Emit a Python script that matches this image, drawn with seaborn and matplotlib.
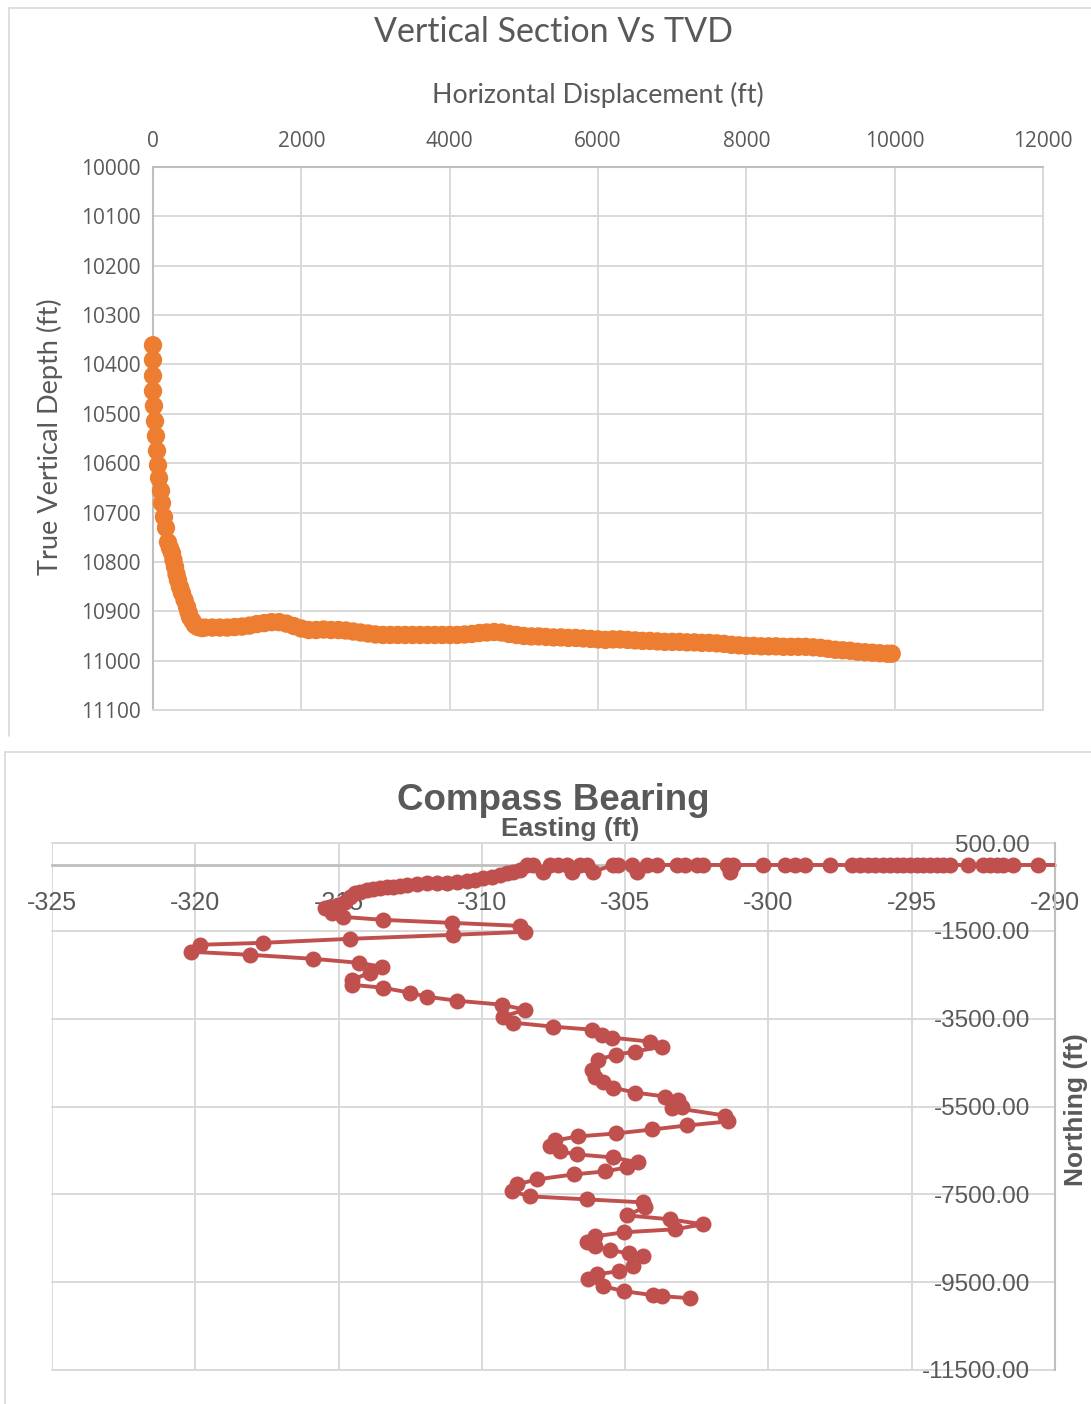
import matplotlib
matplotlib.use("Agg")
import matplotlib.pyplot as plt
import seaborn as sns
from matplotlib.lines import Line2D
from matplotlib.ticker import FuncFormatter

# ---------------- data: Vertical Section Vs TVD ----------------
vs_disp = [0, 0, 0, 0, 13, 27, 40, 54, 67, 81, 108, 121, 148, 175, 202, 229, 256, 276, 297,
           317, 337, 364, 391, 425, 458, 479, 499, 533, 566, 607, 661,
           700, 800, 900, 1000, 1100, 1200, 1300, 1400, 1500, 1600, 1700, 1800, 1900, 2000,
           2100, 2200, 2300, 2400, 2500, 2600, 2700, 2800, 2900, 3000, 3100, 3200, 3300, 3400,
           3500, 3600, 3700, 3800, 3900, 4000, 4100, 4200, 4300, 4400, 4500, 4600, 4700, 4800,
           4900, 5000, 5100, 5200, 5300, 5400, 5500, 5600, 5700, 5800, 5900, 6000, 6100, 6200,
           6300, 6400, 6500, 6600, 6700, 6800, 6900, 7000, 7100, 7200, 7300, 7400, 7500, 7600,
           7700, 7800, 7900, 8000, 8100, 8200, 8300, 8400, 8500, 8600, 8700, 8800, 8900, 9000,
           9100, 9200, 9300, 9400, 9500, 9600, 9700, 9800, 9900, 9960]
vs_tvd = [10361, 10391, 10423, 10454, 10484, 10515, 10545, 10575, 10604, 10630, 10656, 10681,
          10709, 10731, 10760, 10772, 10782, 10796, 10810, 10825, 10837, 10851, 10863, 10877,
          10891, 10902, 10912, 10920, 10928, 10932, 10934,
          10933, 10933, 10933, 10933, 10932, 10931, 10929, 10926, 10924, 10922, 10922, 10925,
          10930, 10935, 10938, 10938, 10937, 10938, 10938, 10939, 10941, 10943, 10945, 10947,
          10948, 10948, 10948, 10948, 10948, 10948, 10948, 10948, 10948, 10948, 10948, 10947,
          10946, 10944, 10943, 10942, 10943, 10946, 10948, 10950, 10951, 10951, 10952, 10953,
          10953, 10954, 10954, 10955, 10956, 10957, 10958, 10957, 10957, 10958, 10959, 10960,
          10960, 10961, 10962, 10962, 10962, 10963, 10963, 10964, 10964, 10965, 10966, 10968,
          10969, 10970, 10970, 10971, 10971, 10971, 10972, 10972, 10972, 10972, 10973, 10974,
          10976, 10978, 10979, 10980, 10982, 10983, 10984, 10985, 10986, 10986]
disp_ticks = [0, 2000, 4000, 6000, 8000, 10000, 12000]
tvd_ticks = [10000, 10100, 10200, 10300, 10400, 10500, 10600, 10700, 10800, 10900, 11000, 11100]

# ---------------- data: Compass Bearing ----------------
easting = [-289.40, -290.60, -291.47, -291.82, -292.03, -292.27, -292.52, -293.04, -293.67,
           -293.91, -294.12, -294.36, -294.61, -294.82, -295.06, -295.31, -295.52, -295.76,
           -296.01, -296.28, -296.53, -296.81, -297.09, -297.85, -298.73, -299.08, -299.42,
           -300.19, -301.24, -301.34, -301.45, -302.29, -302.49, -302.91, -303.19, -303.89,
           -304.24, -304.59, -304.76, -305.25, -305.43, -306.12, -306.33, -306.58, -306.86,
           -307.03, -307.34, -307.62, -307.87, -308.22, -308.43,
           -308.67, -308.91, -309.12, -309.37, -309.65, -309.96, -310.24, -310.52, -310.87,
           -311.22, -311.57, -311.92, -312.26, -312.61, -312.86, -313.10, -313.31, -313.56,
           -313.80, -314.01, -314.25, -314.43, -314.60, -314.78, -315.02, -315.30, -315.47,
           -315.23, -314.85, -313.45, -311.04, -308.67, -308.50, -311.01, -314.60, -317.64,
           -319.84, -320.15, -318.09, -315.89, -314.29, -313.49, -313.90, -314.53, -314.53,
           -313.45, -312.51, -311.92, -310.87, -309.30, -308.50, -309.26, -308.91, -307.52,
           -306.16, -305.81, -305.46, -304.13, -303.72, -304.66, -305.32, -305.95, -306.16,
           -306.05, -305.77, -305.43, -304.66, -303.61, -303.16, -303.02, -303.37, -301.52,
           -301.41, -302.84, -304.06, -305.32, -306.65, -307.45, -307.62, -307.27, -306.68,
           -305.43, -304.55, -304.94, -305.70, -306.79, -308.08, -308.78, -308.95, -308.32,
           -306.33, -304.38, -304.31, -304.94, -303.44, -302.29, -303.26, -305.04, -306.05,
           -306.33, -306.05, -305.53, -304.87, -304.38, -304.73, -305.22, -305.98, -306.30,
           -305.77, -305.04, -304.03, -303.72, -302.74]
northing = [0, 0, 0, 0, 0, 0, 0, 0, 0,
            0, 0, 0, 0, 0, 0, 0, 0, 0,
            0, 0, 0, 0, 0, 0, 0, 0, 0,
            0, 0, -160, 0, 0, 0, 0, 0, 0,
            0, -160, 0, 0, 0, -160, 0, 0, -160,
            0, 0, 0, -160, 0, 0,
            -114, -159, -182, -227, -273, -295, -341, -364, -386,
            -409, -409, -409, -432, -455, -477, -500, -500, -523,
            -546, -568, -614, -636, -727, -841, -909, -955, -977,
            -1091, -1182, -1250, -1318, -1387, -1523, -1591, -1682, -1773,
            -1818, -1977, -2046, -2137, -2228, -2318, -2455, -2614, -2728,
            -2796, -2909, -3000, -3091, -3182, -3296, -3455, -3591, -3682,
            -3750, -3864, -3932, -4023, -4137, -4250, -4319, -4432, -4660,
            -4819, -4932, -5069, -5182, -5273, -5341, -5500, -5523, -5705,
            -5841, -5932, -6023, -6114, -6182, -6273, -6410, -6523, -6591,
            -6660, -6773, -6887, -6978, -7046, -7160, -7274, -7432, -7546,
            -7614, -7683, -7796, -7978, -8069, -8183, -8296, -8364, -8456,
            -8592, -8683, -8774, -8842, -8910, -9138, -9251, -9319, -9433,
            -9592, -9706, -9796, -9819, -9864]
east_ticks = [-325, -320, -315, -310, -305, -300, -295, -290]
north_ticks = [500, -1500, -3500, -5500, -7500, -9500, -11500]

# ---------------- styling ----------------
sns.set_style("white")
plt.rcParams['font.family'] = ['Liberation Sans', 'DejaVu Sans']
plt.rcParams['axes.unicode_minus'] = False

W, H = 1091, 1404
fig = plt.figure(figsize=(W / 100, H / 100), dpi=100)


def fx(px):
    return px / W


def fy(py):
    return 1 - py / H


GRID = '#d9d9d9'
AXC = '#bfbfbf'
TXT = '#595959'

# panel frames
for (x0, y0, x1, y1) in [(9, 8, 9, 736), (9, 8, 1100, 8), (5, 752, 5, 1404), (5, 752, 1100, 752)]:
    fig.add_artist(Line2D([fx(x0), fx(x1)], [fy(y0), fy(y1)], transform=fig.transFigure,
                          color=GRID, lw=1.2))

# ---------------- top chart ----------------
ax1 = fig.add_axes([fx(153), fy(710), fx(1043) - fx(153), fy(167) - fy(710)])
sns.scatterplot(x=vs_disp, y=vs_tvd, ax=ax1, color='#ED7D31', s=175, edgecolor='none',
                linewidth=0, legend=False, zorder=3, clip_on=False)
ax1.set_xlim(0, 12000)
ax1.set_ylim(11100, 10000)
ax1.set_xticks(disp_ticks)
ax1.set_yticks(tvd_ticks)
ax1.xaxis.tick_top()
ax1.grid(True, color=GRID, lw=1.4)
ax1.set_axisbelow(True)
ax1.tick_params(length=0, labelsize=15, labelcolor=TXT)
ax1.tick_params(axis='x', pad=11)
ax1.tick_params(axis='y', pad=9)
ax1.set_xlabel('')
ax1.set_ylabel('')
for side in ['top', 'left']:
    ax1.spines[side].set_color(AXC)
    ax1.spines[side].set_linewidth(1.5)
for side in ['bottom', 'right']:
    ax1.spines[side].set_color(GRID)
    ax1.spines[side].set_linewidth(1.4)
for t in ax1.xaxis.get_major_ticks() + ax1.yaxis.get_major_ticks():
    t.label1.set_fontfamily(['Open Sans', 'DejaVu Sans'])
    t.label2.set_fontfamily(['Open Sans', 'DejaVu Sans'])

fig.text(fx(554), fy(32), 'Vertical Section Vs TVD', ha='center', va='center', fontsize=24.5,
         color=TXT, family=['Lato', 'DejaVu Sans'])
fig.text(fx(598), fy(95), 'Horizontal Displacement (ft)', ha='center', va='center', fontsize=19.3,
         color=TXT, family=['Lato', 'DejaVu Sans'])
fig.text(fx(50), fy(437), 'True Vertical Depth (ft)', ha='center', va='center', fontsize=19.5,
         rotation=90, color=TXT, family=['Lato', 'DejaVu Sans'])

# ---------------- bottom chart ----------------
ax2 = fig.add_axes([fx(52), fy(1370), fx(1055) - fx(52), fy(843) - fy(1370)])
sns.lineplot(x=easting, y=northing, ax=ax2, sort=False, estimator=None, color='#C0504D',
             lw=2.8, marker='o', markersize=11.5, markeredgewidth=0, legend=False, zorder=3)
ax2.set_xlim(-325, -290)
ax2.set_ylim(-11500, 500)
ax2.set_xticks(east_ticks)
ax2.set_yticks(north_ticks)
ax2.xaxis.set_major_formatter(FuncFormatter(lambda v, p: f'{v:.0f}'))
ax2.yaxis.set_major_formatter(FuncFormatter(lambda v, p: f'{v:.2f}'))
ax2.grid(True, color=GRID, lw=1.4)
ax2.set_axisbelow(True)
for gl in ax2.get_xgridlines() + ax2.get_ygridlines():
    gl.set_clip_on(False)
ax2.spines['bottom'].set_position(('data', 0))
ax2.spines['bottom'].set_color(AXC)
ax2.spines['bottom'].set_linewidth(2)
ax2.spines['right'].set_color(AXC)
ax2.spines['right'].set_linewidth(1.5)
ax2.spines['top'].set_visible(False)
ax2.spines['left'].set_visible(False)
ax2.yaxis.tick_right()
ax2.tick_params(length=0, labelcolor=TXT)
ax2.tick_params(axis='x', labelsize=18, pad=19)
ax2.tick_params(axis='y', labelsize=17.5, pad=-18)
ax2.set_xlabel('')
ax2.set_ylabel('')
for t in ax2.yaxis.get_major_ticks():
    t.label2.set_horizontalalignment('right')

fig.text(fx(553), fy(801), 'Compass Bearing', ha='center', va='center', fontsize=26.5,
         weight='bold', color=TXT)
fig.text(fx(570), fy(829), 'Easting (ft)', ha='center', va='center', fontsize=19,
         weight='bold', color=TXT)
fig.text(fx(1076), fy(1110), 'Northing (ft)', ha='center', va='center', fontsize=19,
         weight='bold', rotation=90, color=TXT)

fig.savefig('out.png', dpi=100)
